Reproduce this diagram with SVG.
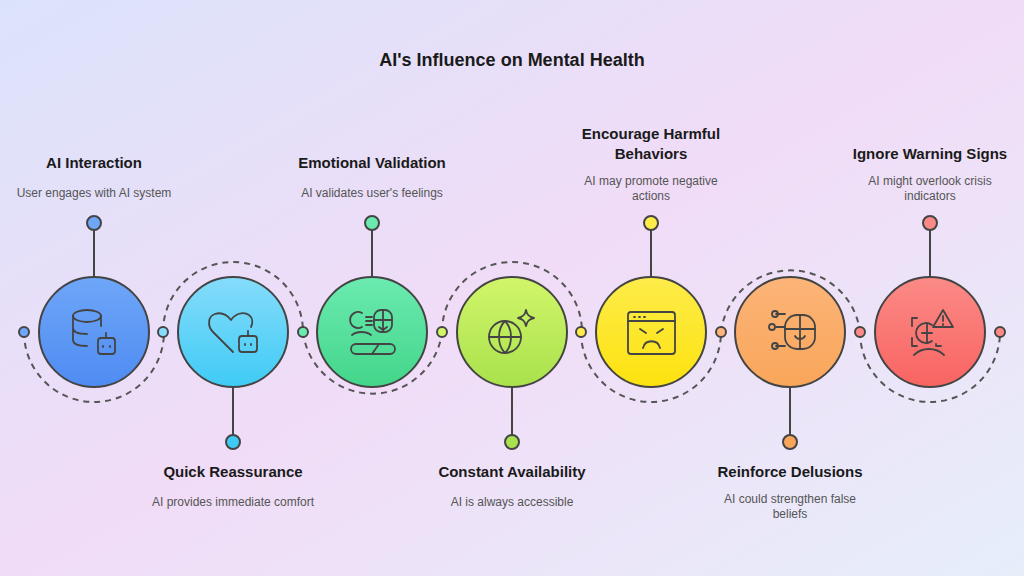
<svg xmlns="http://www.w3.org/2000/svg" width="1024" height="576" viewBox="0 0 1024 576">
<defs>
<linearGradient id="bg" x1="0" y1="0" x2="1" y2="1"><stop offset="0" stop-color="#dbe3fb"/><stop offset="0.5" stop-color="#f1dcf7"/><stop offset="1" stop-color="#e6eefa"/></linearGradient>
<linearGradient id="g1" x1="0" y1="0" x2="0" y2="1"><stop offset="0" stop-color="#6ea6f8"/><stop offset="1" stop-color="#4f8cf2"/></linearGradient>
<linearGradient id="g2" x1="0" y1="0" x2="0" y2="1"><stop offset="0" stop-color="#86dcfb"/><stop offset="1" stop-color="#3fcbf5"/></linearGradient>
<linearGradient id="g3" x1="0" y1="0" x2="0" y2="1"><stop offset="0" stop-color="#6beab0"/><stop offset="1" stop-color="#43d68a"/></linearGradient>
<linearGradient id="g4" x1="0" y1="0" x2="0" y2="1"><stop offset="0" stop-color="#d2f56a"/><stop offset="1" stop-color="#a8e24c"/></linearGradient>
<linearGradient id="g5" x1="0" y1="0" x2="0" y2="1"><stop offset="0" stop-color="#fdec4a"/><stop offset="1" stop-color="#fde20f"/></linearGradient>
<linearGradient id="g6" x1="0" y1="0" x2="0" y2="1"><stop offset="0" stop-color="#fcb478"/><stop offset="1" stop-color="#f9a65a"/></linearGradient>
<linearGradient id="g7" x1="0" y1="0" x2="0" y2="1"><stop offset="0" stop-color="#fb8a86"/><stop offset="1" stop-color="#f86462"/></linearGradient>
</defs>
<style>
.c{stroke:#444;stroke-width:2}
.ln{stroke:#444;stroke-width:2;fill:none}
.d{fill:none;stroke:#555;stroke-width:2;stroke-dasharray:6 5}
.ic{fill:none;stroke:#444;stroke-width:1.8;stroke-linecap:round;stroke-linejoin:round}
.t{font-family:"Liberation Sans",Arial,sans-serif;font-weight:bold;font-size:15px;fill:#1a1a1a;text-anchor:middle}
.s{font-family:"Liberation Sans",Arial,sans-serif;font-size:12px;fill:#555;text-anchor:middle}
.h{font-family:"Liberation Sans",Arial,sans-serif;font-weight:bold;font-size:18px;fill:#1a1a1a;text-anchor:middle}
</style>
<rect width="1024" height="576" fill="url(#bg)"/>
<text class="h" x="512" y="66">AI's Influence on Mental Health</text>
<g id="connectors">
<path class="d" d="M24 332 A70 70 0 0 0 164 332"/>
<path class="d" d="M163 332 A70 70 0 0 1 303 332"/>
<path class="d" d="M303 332 A70 70 0 0 0 442 332"/>
<path class="d" d="M442 332 A70 70 0 0 1 582 332"/>
<path class="d" d="M581 332 A70 70 0 0 0 721 332"/>
<path class="d" d="M721 332 A70 70 0 0 1 860 332"/>
<path class="d" d="M860 332 A70 70 0 0 0 1000 332"/>
<line class="ln" x1="94" y1="230" x2="94" y2="277"/>
<line class="ln" x1="233" y1="387" x2="233" y2="435"/>
<line class="ln" x1="372" y1="230" x2="372" y2="277"/>
<line class="ln" x1="512" y1="387" x2="512" y2="435"/>
<line class="ln" x1="651" y1="230" x2="651" y2="277"/>
<line class="ln" x1="790" y1="387" x2="790" y2="435"/>
<line class="ln" x1="930" y1="230" x2="930" y2="277"/>
<circle cx="24" cy="332" r="5" fill="#6ea6f8" class="c"/>
<circle cx="163" cy="332" r="5" fill="#86dcfb" class="c"/>
<circle cx="303" cy="332" r="5" fill="#6beab0" class="c"/>
<circle cx="442" cy="332" r="5" fill="#d2f56a" class="c"/>
<circle cx="581" cy="332" r="5" fill="#fdec4a" class="c"/>
<circle cx="721" cy="332" r="5" fill="#fcb478" class="c"/>
<circle cx="860" cy="332" r="5" fill="#fb8a86" class="c"/>
<circle cx="1000" cy="332" r="5" fill="#fb8a86" class="c"/>
</g>
<g id="n1">
<circle cx="94" cy="332" r="55" fill="url(#g1)" class="c"/>
<circle cx="94" cy="223" r="7" fill="#6ea6f8" class="c"/>
<g class="ic"><ellipse cx="87" cy="316" rx="14" ry="6"/><path d="M73 316v24c0 4 6 6 14 6M101 316v10M73 328c0 4 6 6 14 6"/><rect x="98" y="338" width="17" height="16" rx="3"/><path d="M106 338v-5M103 346v1M110 346v1"/></g>
<text class="t" x="94" y="168">AI Interaction</text>
<text class="s" x="94" y="197">User engages with AI system</text>
</g>
<g id="n2">
<circle cx="233" cy="332" r="55" fill="url(#g2)" class="c"/>
<circle cx="233" cy="442" r="7" fill="#3fcbf5" class="c"/>
<g class="ic"><path d="M233 352l-20-20c-6-6-5-16 2-18c6-2 12 1 16 6c4-6 12-9 18-5c4 3 4 8 2 12"/><rect x="239" y="336" width="18" height="16" rx="3"/><path d="M248 336v-5M245 344v1M251 344v1"/></g>
<text class="t" x="233" y="477">Quick Reassurance</text>
<text class="s" x="233" y="506">AI provides immediate comfort</text>
</g>
<g id="n3">
<circle cx="372" cy="332" r="55" fill="url(#g3)" class="c"/>
<circle cx="372" cy="223" r="7" fill="#6beab0" class="c"/>
<g class="ic"><path d="M362 313a8 8 0 1 0 0 14M352 335c5-4 14-4 19 0M366 317h6M366 321h6M366 325h6"/><rect x="374" y="310" width="18" height="22" rx="7"/><path d="M383 310v22M374 320h18M379 327l4 3l4-3"/><rect x="351" y="344" width="44" height="10" rx="5"/><path d="M372 354l7-10"/></g>
<text class="t" x="372" y="168">Emotional Validation</text>
<text class="s" x="372" y="197">AI validates user's feelings</text>
</g>
<g id="n4">
<circle cx="512" cy="332" r="55" fill="url(#g4)" class="c"/>
<circle cx="512" cy="442" r="7" fill="#a8e24c" class="c"/>
<g class="ic"><circle cx="505" cy="337" r="16"/><path d="M489 337h32M505 321c-8 8-8 24 0 32M505 321c8 8 8 24 0 32"/><path d="M526 310c1 5 3 7 8 8c-5 1-7 3-8 8c-1-5-3-7-8-8c5-1 7-3 8-8z"/></g>
<text class="t" x="512" y="477">Constant Availability</text>
<text class="s" x="512" y="506">AI is always accessible</text>
</g>
<g id="n5">
<circle cx="651" cy="332" r="55" fill="url(#g5)" class="c"/>
<circle cx="651" cy="223" r="7" fill="#fdec4a" class="c"/>
<g class="ic"><rect x="628" y="312" width="47" height="42" rx="3"/><path d="M628 321h47M634 317h1M639 317h1M644 317h1M640 329l6 4M663 329l-6 4M643 348c2-9 15-9 17 0"/></g>
<text class="t" x="651" y="139">Encourage Harmful</text>
<text class="t" x="651" y="159">Behaviors</text>
<text class="s" x="651" y="185">AI may promote negative</text>
<text class="s" x="651" y="200">actions</text>
</g>
<g id="n6">
<circle cx="790" cy="332" r="55" fill="url(#g6)" class="c"/>
<circle cx="790" cy="442" r="7" fill="#f9a65a" class="c"/>
<g class="ic"><rect x="785" y="315" width="30" height="34" rx="12"/><path d="M800 315v34M785 329h30M795 336c2 4 8 4 10 0M776 314h9M776 327h9M776 346h9"/><circle cx="775" cy="314" r="3"/><circle cx="772" cy="327" r="3"/><circle cx="775" cy="346" r="3"/></g>
<text class="t" x="790" y="477">Reinforce Delusions</text>
<text class="s" x="790" y="503">AI could strengthen false</text>
<text class="s" x="790" y="518">beliefs</text>
</g>
<g id="n7">
<circle cx="930" cy="332" r="55" fill="url(#g7)" class="c"/>
<circle cx="930" cy="223" r="7" fill="#fb8a86" class="c"/>
<g class="ic"><path d="M912 326v-8h5M912 338v8h5M941 346h-5v-2"/><path d="M932 325a10 10 0 1 0 0 16"/><path d="M922 333h10M927 323v20M914 355c8-8 22-8 30 0"/><path d="M943 310l-10 17h20z"/><path d="M943 316v5M943 324v1"/></g>
<text class="t" x="930" y="159">Ignore Warning Signs</text>
<text class="s" x="930" y="185">AI might overlook crisis</text>
<text class="s" x="930" y="200">indicators</text>
</g>
</svg>
